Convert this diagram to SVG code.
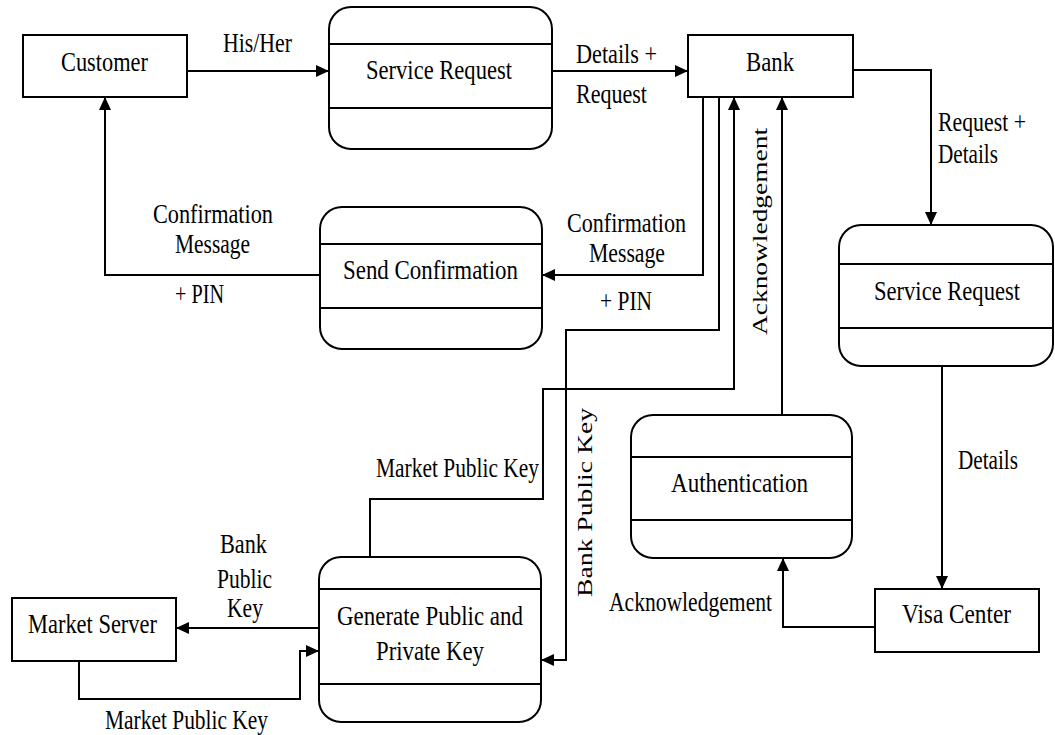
<svg xmlns="http://www.w3.org/2000/svg" width="1055" height="735" viewBox="0 0 1055 735">
<style>
.box{fill:#fff;stroke:#000;stroke-width:2}
.div{stroke:#000;stroke-width:2}
.t{font-family:"Liberation Serif","Times New Roman",serif;font-size:27px;fill:#000}
.tv{font-family:"Liberation Serif","Times New Roman",serif;font-size:21px;fill:#000}
.c{fill:none;stroke:#000;stroke-width:2}
</style>
<defs>
<marker id="ah" markerUnits="userSpaceOnUse" markerWidth="14" markerHeight="12" refX="13" refY="6" orient="auto">
<path d="M0,0 L13,6 L0,12 z" fill="#000"/>
</marker>
</defs>
<rect width="1055" height="735" fill="#fff"/>

<g id="connectors">
<path class="c" d="M187,71 H329" marker-end="url(#ah)"/>
<path class="c" d="M552,71 H688" marker-end="url(#ah)"/>
<path class="c" d="M853,70 H931 V225" marker-end="url(#ah)"/>
<path class="c" d="M703,97 V275 H542" marker-end="url(#ah)"/>
<path class="c" d="M719,97 V330 H566 V660 H541" marker-end="url(#ah)"/>
<path class="c" d="M370,557 V499 H543 V389 H734 V97" marker-end="url(#ah)"/>
<path class="c" d="M782,415 V97" marker-end="url(#ah)"/>
<path class="c" d="M320,275 H105 V97" marker-end="url(#ah)"/>
<path class="c" d="M319,628 H176" marker-end="url(#ah)"/>
<path class="c" d="M79,661 V699 H300 V651 H319" marker-end="url(#ah)"/>
<path class="c" d="M942,366 V589" marker-end="url(#ah)"/>
<path class="c" d="M875,627 H783 V558" marker-end="url(#ah)"/>
</g>

<g id="labels">
<text class="t" x="223" y="52" textLength="69" lengthAdjust="spacingAndGlyphs">His/Her</text>
<text class="t" x="576" y="63" textLength="81" lengthAdjust="spacingAndGlyphs">Details +</text>
<text class="t" x="576" y="103" textLength="71" lengthAdjust="spacingAndGlyphs">Request</text>
<text class="t" x="938" y="131" textLength="88" lengthAdjust="spacingAndGlyphs">Request +</text>
<text class="t" x="938" y="163" textLength="60" lengthAdjust="spacingAndGlyphs">Details</text>
<text class="t" x="153" y="223" textLength="120" lengthAdjust="spacingAndGlyphs">Confirmation</text>
<text class="t" x="175" y="253" textLength="75" lengthAdjust="spacingAndGlyphs">Message</text>
<text class="t" x="175" y="303" textLength="49" lengthAdjust="spacingAndGlyphs">+ PIN</text>
<text class="t" x="567" y="232" textLength="119" lengthAdjust="spacingAndGlyphs">Confirmation</text>
<text class="t" x="589" y="262" textLength="76" lengthAdjust="spacingAndGlyphs">Message</text>
<text class="t" x="600" y="310" textLength="52" lengthAdjust="spacingAndGlyphs">+ PIN</text>
<text class="tv" transform="translate(767,335) rotate(-90)" textLength="207" lengthAdjust="spacingAndGlyphs">Acknowledgement</text>
<text class="tv" transform="translate(592,597) rotate(-90)" textLength="189" lengthAdjust="spacingAndGlyphs">Bank Public Key</text>
<text class="t" x="376" y="477" textLength="163" lengthAdjust="spacingAndGlyphs">Market Public Key</text>
<text class="t" x="958" y="469" textLength="60" lengthAdjust="spacingAndGlyphs">Details</text>
<text class="t" x="220" y="553" textLength="47" lengthAdjust="spacingAndGlyphs">Bank</text>
<text class="t" x="217" y="588" textLength="55" lengthAdjust="spacingAndGlyphs">Public</text>
<text class="t" x="227" y="617" textLength="36" lengthAdjust="spacingAndGlyphs">Key</text>
<text class="t" x="609" y="611" textLength="163" lengthAdjust="spacingAndGlyphs">Acknowledgement</text>
<text class="t" x="105" y="729" textLength="163" lengthAdjust="spacingAndGlyphs">Market Public Key</text>
</g>

<g id="customer">
<rect class="box" x="23" y="35" width="164" height="62"/>
<text class="t" x="61" y="71" textLength="87" lengthAdjust="spacingAndGlyphs">Customer</text>
</g>

<g id="service-request-1">
<rect class="box" x="329" y="7" width="223" height="142" rx="22" ry="22"/>
<line class="div" x1="329" y1="44" x2="552" y2="44"/>
<line class="div" x1="329" y1="108" x2="552" y2="108"/>
<text class="t" x="366" y="79" textLength="146" lengthAdjust="spacingAndGlyphs">Service Request</text>
</g>

<g id="bank">
<rect class="box" x="688" y="35" width="165" height="62"/>
<text class="t" x="746" y="71" textLength="48" lengthAdjust="spacingAndGlyphs">Bank</text>
</g>

<g id="send-confirmation">
<rect class="box" x="320" y="207" width="222" height="142" rx="22" ry="22"/>
<line class="div" x1="320" y1="244" x2="542" y2="244"/>
<line class="div" x1="320" y1="308" x2="542" y2="308"/>
<text class="t" x="343" y="279" textLength="175" lengthAdjust="spacingAndGlyphs">Send Confirmation</text>
</g>

<g id="service-request-2">
<rect class="box" x="839" y="225" width="214" height="141" rx="22" ry="22"/>
<line class="div" x1="839" y1="264" x2="1053" y2="264"/>
<line class="div" x1="839" y1="328" x2="1053" y2="328"/>
<text class="t" x="874" y="300" textLength="146" lengthAdjust="spacingAndGlyphs">Service Request</text>
</g>

<g id="authentication">
<rect class="box" x="631" y="415" width="221" height="143" rx="22" ry="22"/>
<line class="div" x1="631" y1="457" x2="852" y2="457"/>
<line class="div" x1="631" y1="520" x2="852" y2="520"/>
<text class="t" x="671" y="492" textLength="137" lengthAdjust="spacingAndGlyphs">Authentication</text>
</g>

<g id="generate-key">
<rect class="box" x="319" y="557" width="222" height="165" rx="22" ry="22"/>
<line class="div" x1="319" y1="589" x2="541" y2="589"/>
<line class="div" x1="319" y1="684" x2="541" y2="684"/>
<text class="t" x="337" y="625" textLength="186" lengthAdjust="spacingAndGlyphs">Generate Public and</text>
<text class="t" x="376" y="660" textLength="108" lengthAdjust="spacingAndGlyphs">Private Key</text>
</g>

<g id="market-server">
<rect class="box" x="12" y="598" width="164" height="63"/>
<text class="t" x="28" y="633" textLength="129" lengthAdjust="spacingAndGlyphs">Market Server</text>
</g>

<g id="visa-center">
<rect class="box" x="875" y="589" width="164" height="63"/>
<text class="t" x="902" y="623" textLength="109" lengthAdjust="spacingAndGlyphs">Visa Center</text>
</g>
</svg>
